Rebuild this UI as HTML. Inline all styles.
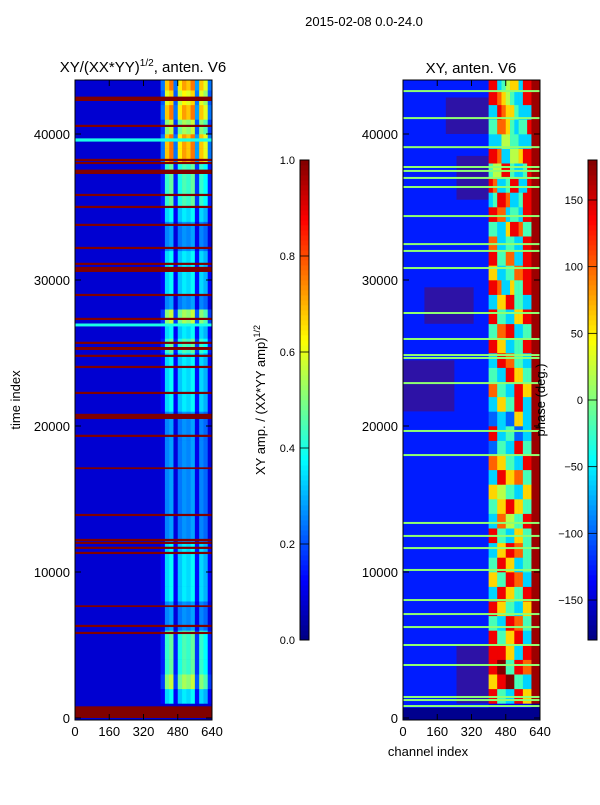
<!DOCTYPE html>
<html><head><meta charset="utf-8">
<style>
body{margin:0;background:#fff;}
svg text{font-family:"Liberation Sans",sans-serif;fill:#000;}
</style></head>
<body>
<svg id="fig" width="600" height="800" xmlns="http://www.w3.org/2000/svg">
<text x="364" y="26" font-size="13" text-anchor="middle">2015-02-08 0.0-24.0</text>
<text x="143" y="72" font-size="15" text-anchor="middle">XY/(XX*YY)<tspan font-size="10" dy="-6">1/2</tspan><tspan dy="6">, anten. V6</tspan></text>
<text x="471" y="73" font-size="15" text-anchor="middle">XY, anten. V6</text>
<text transform="translate(20,400) rotate(-90)" font-size="13" text-anchor="middle">time index</text>
<text x="428" y="756" font-size="13" text-anchor="middle">channel index</text>
<text transform="translate(265,400) rotate(-90)" font-size="13" text-anchor="middle">XY amp. / (XX*YY amp)<tspan font-size="9" dy="-5">1/2</tspan></text>
<g id="left"></g>
<g id="right"></g>
<g id="axes"></g>
<g id="cbars"></g>
<text transform="translate(545,400) rotate(-90)" font-size="13" text-anchor="middle">phase (deg.)</text>
</svg>
<script>
// ---- data ----
const channelTicks = [0,160,320,480,640];
const timeTicks = [0,10000,20000,30000,40000];
const ampTicks = [0.0,0.2,0.4,0.6,0.8,1.0];
const phaseTicks = [-150,-100,-50,0,50,100,150];
// amplitude of active channel block per 1000-sample row (bottom-up), in tenths
const ampRowLevel = [0,4,6,5,5,5,3,3,4,4,4,4,3,3,3,3,3,3,3,3,3,4,4,4,4,5,4,6,3,4,4,4,3,3,4,5,5,5,8,8,6,8,7,8];
// per 20-channel column gain inside active band (cols 20..31)
const ampColGain = [0.3,0.85,0.95,0.3,0.8,0.9,0.85,0.95,0.35,0.85,0.75,0.3];
const ampBackground = 0.08;
// red (flagged) lines: [time, thickness]
const ampRedLines = [[42260,300],[40480,150],[38150,150],[37940,150],[37260,300],[35750,150],[34930,150],[33700,150],[32120,150],[31030,150],[30550,350],[28900,150],[27260,150],[25620,150],[25210,200],[24730,150],[23970,150],[22190,150],[20680,150],[20480,350],[19250,150],[17050,120],[13830,150],[12120,150],[11920,150],[11580,150],[11230,150],[7600,120],[6230,150],[5750,150],[0,800]];
const ampCyanLines = [[39590,220],[26920,200]];
// phase rows (bottom-up), digits 0-9 over channel cols 20..29
const phaseRows = ["1111111111","8844338866","6688994433","8899448877","8888663388","8844668833","4433887744","8866443366","3388664488","6644887733","4488663344","3366887744","8844336644","3377554488","4466886644","6655443366","3388667744","7766443388","2244338844","8833442233","2233226633","3366448833","7744338866","4433886644","3388774433","8866334488","4477883344","8844336688","3366884433","8873364488","6633447788","8844773388","7733443388","4433688744","8877344388","3488733488","8733488338","4558843348","8873355688","3335544333","4477643448","3387664333","8876543388","8834566388"];
const phaseBackground = -125;
const phaseEdge = 170;
const phaseGreenLines = [42940,41090,39100,37740,37470,36990,36370,34380,32460,31990,30820,27740,25960,24860,24660,22940,19660,18010,13360,12470,11640,10140,8080,7120,6230,5000,3630,1440,1230,820];
// red speckle regions: [tStart,tEnd,chStart,chEnd]
const phaseRedRegions = [[40000,42500,200,400],[35500,38500,250,400],[27000,29500,100,330],[21000,24500,0,240],[1000,5000,250,410]];
// ---- helpers ----
const NS="http://www.w3.org/2000/svg";
function jet(v){v=Math.max(0,Math.min(1,v));const c=x=>Math.round(255*Math.max(0,Math.min(1,1.5-Math.abs(4*v-x))));return `rgb(${c(3)},${c(2)},${c(1)})`;}
function ph(p){return (p+180)/360;}
const TMAX=43700;
function mk(tag,attrs,parent){const e=document.createElementNS(NS,tag);for(const k in attrs)e.setAttribute(k,attrs[k]);parent.appendChild(e);return e;}
function yT(t){return 718-t*0.0146;}
function xC(c,x0){return x0+c*137/640;}
const L=document.getElementById('left'),R=document.getElementById('right'),A=document.getElementById('axes'),C=document.getElementById('cbars');
// left heatmap
mk('rect',{x:75,y:80,width:137,height:640,fill:jet(ampBackground)},L);
ampRowLevel.forEach((lv,i)=>{
  const t0=i*1000,t1=Math.min(TMAX,t0+1000);
  ampColGain.forEach((g,j)=>{
    const c0=(20+j)*20;
    const r=mk('rect',{x:xC(c0,75),y:yT(t1),width:137/32+0.3,height:yT(t0)-yT(t1)+0.3,fill:jet(Math.max(ampBackground,lv/10*g))},L);
    
    
  });
});
ampCyanLines.forEach(([t,h])=>{const r=mk('rect',{x:75,y:yT(t+h/2),width:137,height:Math.max(1.5,h*0.0146),fill:jet(0.4)},L);});
ampRedLines.forEach(([t,h])=>{const r=mk('rect',{x:75,y:yT(t+h),width:137,height:Math.max(1.5,h*0.0146),fill:jet(1)},L);});
// right heatmap
mk('rect',{x:403,y:80,width:137,height:640,fill:jet(ph(phaseBackground))},R);
phaseRedRegions.forEach(([t0,t1,c0,c1])=>{const r=mk('rect',{x:xC(c0,403),y:yT(t1),width:(c1-c0)*137/640,height:yT(t0)-yT(t1),fill:jet(1),opacity:0.35},R);});
phaseRows.forEach((s,i)=>{
  const t0=i*1000,t1=Math.min(TMAX,t0+1000);
  for(let j=0;j<s.length;j++){
    const r=mk('rect',{x:xC((20+j)*20,403),y:yT(t1),width:137/32+0.3,height:yT(t0)-yT(t1)+0.3,fill:jet(+s[j]/9)},R);
    
    
  }
  const e=mk('rect',{x:xC(600,403),y:yT(t1),width:137*40/640,height:yT(t0)-yT(t1)+0.3,fill:jet(ph(i===0?-175:phaseEdge))},R);
  
  
});
mk('rect',{x:403,y:yT(700),width:137,height:720-yT(700),fill:jet(ph(-175))},R);
phaseGreenLines.forEach(t=>{const r=mk('rect',{x:403,y:yT(t)-1,width:137,height:2,fill:jet(ph(5))},R);});
// axes
[75,403].forEach((x0,k)=>{
  const f=mk('rect',{x:x0,y:80,width:137,height:640,fill:'none',stroke:'#000','stroke-width':1},A);
  
  
  channelTicks.forEach(c=>{
    const x=xC(c,x0);
    mk('line',{x1:x,x2:x,y1:720,y2:714,stroke:'#000'},A);
    mk('line',{x1:x,x2:x,y1:80,y2:86,stroke:'#000'},A);
    const t=mk('text',{x:x,y:736,'font-size':13,'text-anchor':'middle'},A);t.textContent=c;
    
    
  });
  timeTicks.forEach(v=>{
    const y=yT(v);
    mk('line',{x1:x0,x2:x0+6,y1:y,y2:y,stroke:'#000'},A);
    mk('line',{x1:x0+137,x2:x0+131,y1:y,y2:y,stroke:'#000'},A);
    const t=mk('text',{x:x0-5,y:y+5,'font-size':13,'text-anchor':'end'},A);t.textContent=v;
    
    
  });
});
// colorbars
function cbar(x0,ticks,toV,labels,name){
  const g=mk('g',{},C);
  
  
  for(let i=0;i<96;i++){mk('rect',{x:x0,y:640-(i+1)*5,width:9,height:5.4,fill:jet((i+0.5)/96)},g);}
  mk('rect',{x:x0,y:160,width:9,height:480,fill:'none',stroke:'#000'},g);
  ticks.forEach((v,i)=>{
    const y=640-toV(v)*480;
    mk('line',{x1:x0,x2:x0+9,y1:y,y2:y,stroke:'#000','stroke-width':0.8},g);
    const t=mk('text',{x:x0-5,y:y+4,'font-size':11,'text-anchor':'end'},g);
    t.textContent=labels[i];
    
    
  });
}
cbar(300,ampTicks,v=>v,ampTicks.map(v=>v.toFixed(1)),'amp-colorbar');
cbar(588,phaseTicks,ph,phaseTicks.map(v=>String(v).replace('-','\u2212')),'phase-colorbar');
</script>
</body></html>
